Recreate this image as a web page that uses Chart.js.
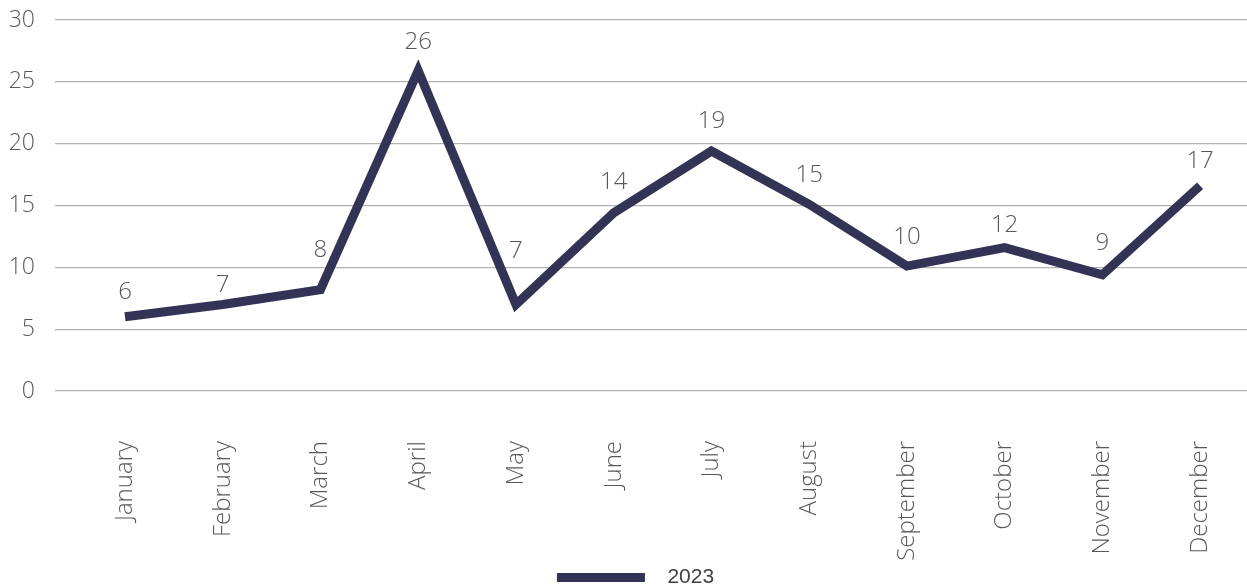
<!DOCTYPE html>
<html>
<head>
<meta charset="utf-8">
<script src="https://cdn.jsdelivr.net/npm/chart.js@4"></script>
<style>
  html, body { margin: 0; padding: 0; background: #fff; }
  #wrap { width: 1247px; height: 588px; }
</style>
</head>
<body>
<div id="wrap"><canvas id="lineChart"></canvas></div>
<script>
// Chart data
const months = ['January', 'February', 'March', 'April', 'May', 'June',
                'July', 'August', 'September', 'October', 'November', 'December'];
const values2023 = [6.0, 7.0, 8.2, 25.9, 7.0, 14.4, 19.4, 15.1, 10.1, 11.6, 9.4, 16.6];
const yTicks = [0, 5, 10, 15, 20, 25, 30];
const seriesName = '2023';

// how far each value label sits above its point (px), as placed in the original
const labelGap = [18, 12, 33, 22, 46, 24, 23, 22, 22, 16, 25, 18];

const lineColor = '#333355';
const textColor = '#595959';
const labelFont = "'Open Sans', Lato, sans-serif";

// Legend swatch: a flat bar with blank space around it
const swatch = document.createElement('canvas');
swatch.width = 124;
swatch.height = 9;
const sctx = swatch.getContext('2d');
sctx.fillStyle = lineColor;
sctx.fillRect(24, 0, 88, 9);

// Value labels above each point
const pointLabels = {
    id: 'pointLabels',
    afterDatasetsDraw(chart) {
        const ctx = chart.ctx;
        const meta = chart.getDatasetMeta(0);
        ctx.save();
        ctx.font = '300 24px ' + labelFont;
        ctx.fillStyle = textColor;
        ctx.textAlign = 'center';
        ctx.textBaseline = 'alphabetic';
        meta.data.forEach((pt, i) => {
            ctx.fillText(String(Math.round(values2023[i])), pt.x, pt.y - labelGap[i]);
        });
        ctx.restore();
    }
};

const ctx = document.getElementById('lineChart').getContext('2d');

new Chart(ctx, {
    type: 'line',
    data: {
        datasets: [{
            label: seriesName,
            data: values2023.map((v, i) => ({ x: i, y: v })),
            borderColor: lineColor,
            backgroundColor: lineColor,
            borderWidth: 9,
            borderJoinStyle: 'miter',
            borderCapStyle: 'butt',
            pointRadius: 0,
            pointStyle: swatch,
            tension: 0
        }]
    },
    options: {
        responsive: true,
        maintainAspectRatio: false,
        animation: false,
        layout: {
            padding: { top: 20, left: 0, right: 0, bottom: -10 }
        },
        plugins: {
            legend: {
                position: 'bottom',
                labels: {
                    usePointStyle: true,
                    pointStyleWidth: 124,
                    boxHeight: 9,
                    padding: 2,
                    color: '#404040',
                    font: { family: "'Liberation Sans', Arial, sans-serif", size: 21 }
                }
            },
            tooltip: { enabled: false }
        },
        scales: {
            x: {
                type: 'linear',
                min: -0.716,
                max: 11.48,
                grid: { display: false, drawTicks: false },
                border: { display: false },
                afterBuildTicks: scale => {
                    scale.ticks = months.map((m, i) => ({ value: i }));
                },
                afterFit: scale => {
                    scale.height = 174;
                    scale.paddingLeft = 0;
                    scale.paddingRight = 0;
                },
                ticks: {
                    autoSkip: false,
                    minRotation: 90,
                    maxRotation: 90,
                    padding: 50,
                    color: textColor,
                    font: { family: labelFont, size: 24, weight: 300 },
                    callback: value => months[value]
                }
            },
            y: {
                min: 0,
                max: 30,
                afterBuildTicks: scale => {
                    scale.ticks = yTicks.map(v => ({ value: v }));
                },
                afterFit: scale => {
                    scale.width = 55;
                    scale.paddingTop = 0;
                    scale.paddingBottom = 0;
                },
                grid: { color: '#b3b3b3', lineWidth: 1.3, drawTicks: false },
                border: { display: false },
                ticks: {
                    padding: 20,
                    color: textColor,
                    font: { family: labelFont, size: 23, weight: 300 }
                }
            }
        }
    },
    plugins: [pointLabels]
});
</script>
</body>
</html>
